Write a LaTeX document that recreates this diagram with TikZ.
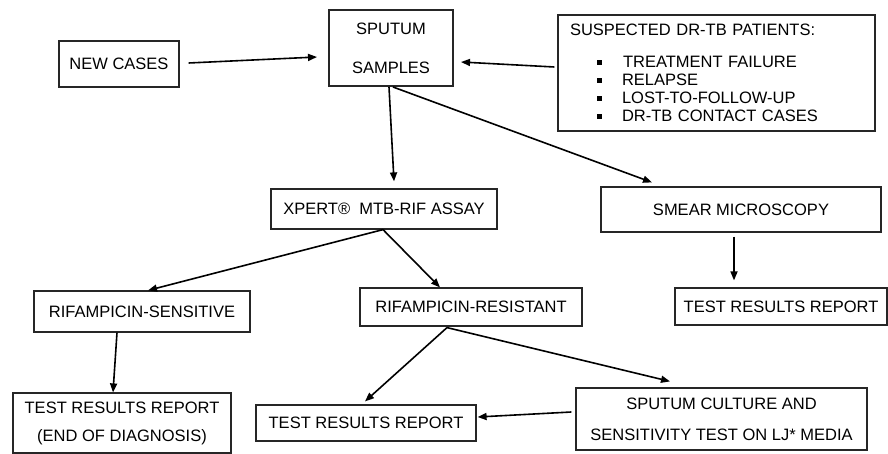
\documentclass[tikz,border=0pt]{standalone}
\usepackage{fontspec}
\setmainfont{Liberation Sans}
\usetikzlibrary{arrows.meta,calc}
\newcommand{\bul}{\raisebox{3pt}{\rule{4.5pt}{5pt}}}
\begin{document}
\begin{tikzpicture}[x=1pt,y=-1pt,
  box/.style={draw=black!85,line width=1.2pt,inner sep=0pt,align=center,
    font=\fontsize{16.5}{18}\selectfont},
  arr/.style={line width=1.6pt,-{Triangle[length=9pt,width=7pt]}}]
\fill[white] (0,0) rectangle (888,454);
\useasboundingbox (0,0) rectangle (888,454);

\node[box,minimum width=120pt,minimum height=46pt] (new) at (119,64) {NEW CASES};
\node[box,line width=2pt,minimum width=124pt,minimum height=76pt] (sp) at (391,48) {SPUTUM\\[21pt]SAMPLES};
\node[box,minimum width=317pt,minimum height=116pt,text width=293pt,inner xsep=12pt,align=left] (sus) at (716.5,73)
  {SUSPECTED DR-TB PATIENTS:\\[14pt]
   \hspace*{27pt}\bul\hspace*{21.5pt}TREATMENT FAILURE\\
   \hspace*{27pt}\bul\hspace*{20.5pt}RELAPSE\\
   \hspace*{27pt}\bul\hspace*{20.5pt}LOST-TO-FOLLOW-UP\\
   \hspace*{27pt}\bul\hspace*{20.5pt}DR-TB CONTACT CASES};
\node[box,minimum width=226pt,minimum height=40pt] (xp) at (384,209) {XPERT®~ MTB-RIF ASSAY};
\node[box,minimum width=280pt,minimum height=45pt] (sm) at (741,209.5) {SMEAR MICROSCOPY};
\node[box,minimum width=216pt,minimum height=41pt] (rs) at (142,311.5) {RIFAMPICIN-SENSITIVE};
\node[box,minimum width=222pt,minimum height=38pt] (rr) at (471,307) {RIFAMPICIN-RESISTANT};
\node[box,minimum width=212pt,minimum height=37pt] (trrc) at (781,306.5) {TEST RESULTS REPORT};
\node[box,minimum width=218pt,minimum height=60pt] (trra) at (122,423) {TEST RESULTS REPORT\\[10pt](END OF DIAGNOSIS)};
\node[box,minimum width=220pt,minimum height=36pt] (trrb) at (366,423) {TEST RESULTS REPORT};
\node[box,minimum width=291pt,minimum height=62pt] (cul) at (721.5,419) {SPUTUM CULTURE AND\\[13pt]SENSITIVITY TEST ON LJ* MEDIA};

\draw[arr] ($(new.east)+(9,-1)$) -- ($(sp.west)+(-11,9)$);
\draw[arr] ($(sus.west)+(-3,-6)$) -- ($(sp.east)+(7,14)$);
\draw[arr] ($(sp.south)+(-2,0)$) -- ($(xp.north)+(10,-7)$);
\draw[arr] ($(sp.south)+(2,0)$) -- ($(sm.north)+(-89,-4)$);
\draw[arr] ($(xp.south)+(-1,0)$) -- ($(rs.north)+(6,0)$);
\draw[arr] ($(xp.south)+(-1,0)$) -- ($(rr.north)+(-31,0)$);
\draw[arr] ($(sm.south)+(-7,4)$) -- ($(trrc.north)+(-47,-7)$);
\draw[arr] ($(rs.south)+(-25,0)$) -- ($(trra.north)+(-9,0)$);
\draw[arr] ($(rr.south)+(-24,1)$) -- ($(trrb.north)+(-1,-3)$);
\draw[arr] ($(rr.south)+(-24,1)$) -- ($(cul.north)+(-51.5,-6)$);
\draw[arr] ($(cul.west)+(-4,-7)$) -- ($(trrb.east)+(1,-6)$);
\end{tikzpicture}
\end{document}
